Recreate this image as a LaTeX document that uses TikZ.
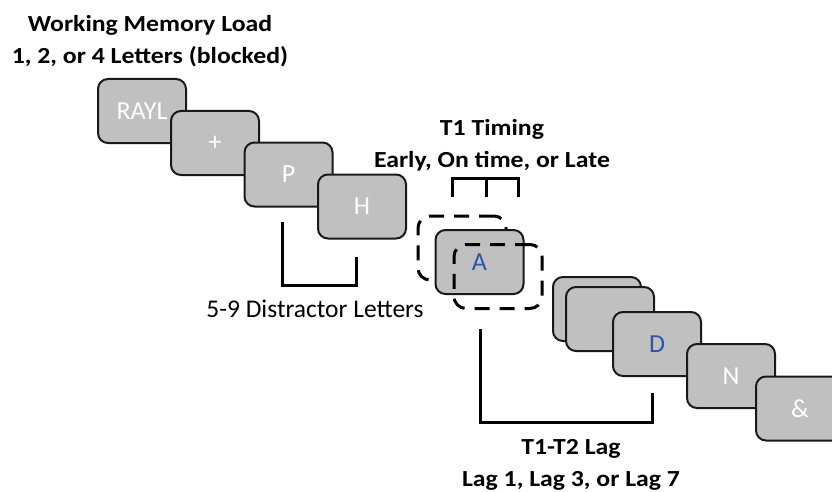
\documentclass[tikz,border=0pt]{standalone}
\usepackage{fontspec}
\setmainfont{Carlito}
\newfontfamily\headfont[FakeStretch=1.12]{Carlito}
\definecolor{boxgray}{HTML}{C0C0C0}
\definecolor{letterblue}{HTML}{2E54A6}
\tikzset{
  frame/.style={draw=black!90, line width=2pt, fill=boxgray, rounded corners=10pt,
    minimum width=88pt, minimum height=64pt, inner sep=0pt},
  letter/.style={text=white, font=\fontsize{26}{26}\selectfont},
  target/.style={text=letterblue, font=\fontsize{26}{26}\selectfont},
  window/.style={draw=black, line width=3pt, dash pattern=on 15pt off 10pt,
    rounded corners=12pt, minimum width=88pt, minimum height=64pt, inner sep=0pt},
  bracket/.style={draw=black, line width=3pt, line join=miter},
  heading/.style={font=\headfont\bfseries\fontsize{23}{32}\selectfont, align=center},
  plain/.style={font=\fontsize{25.5}{25.5}\selectfont}
}
\begin{document}
\begin{tikzpicture}[x=1pt, y=-1pt]
\useasboundingbox (0,0) rectangle (832,492);
\clip (0,0) rectangle (832,492);

% RSVP stream before T1
\node[frame, letter] (rayl) at (142,111) {RAYL};
\node[frame, letter] (plus) at (215,143) {+};
\node[frame, letter] (p) at (288.5,174.5) {P};
\node[frame, letter] (h) at (362,206.5) {H};

% T1 with its early and late presentation windows
\node[window] (early) at (462,248) {};
\node[frame, target] (a) at (479.5,262) {A};
\node[window] (late) at (498,276.5) {};

% stream after T1
\node[frame] (b1) at (597,309) {};
\node[frame] (b2) at (610,319) {};
\node[frame, target] (d) at (657,344) {D};
\node[frame, letter] (n) at (731,376) {N};
\node[frame, letter] (amp) at (800,408.5) {\&};

% labels
\node[heading] (wm) at (150,41) {Working Memory Load\\1, 2, or 4 Letters (blocked)};
\node[heading] (t1) at (492,145) {T1 Timing\\Early, On time, or Late};
\node[heading] (lag) at (571,465) {T1-T2 Lag\\Lag 1, Lag 3, or Lag 7};
\node[plain] (dist) at (315,309) {5-9 Distractor Letters};

% brackets
\coordinate (t1a) at (452,197);
\coordinate (t1b) at (486,197);
\coordinate (t1c) at (518,197);
\draw[bracket] (t1a) |- (452,178) -| (t1c);
\draw[bracket] (t1b) -- (486,178);

\coordinate (dl) at (282,222);
\coordinate (dr) at (356,257);
\draw[bracket] (dl) |- (356,285) -- (dr);

\coordinate (ll) at (480,329);
\coordinate (lr) at (652,393);
\draw[bracket] (ll) |- (652,422) -- (lr);
\end{tikzpicture}
\end{document}
